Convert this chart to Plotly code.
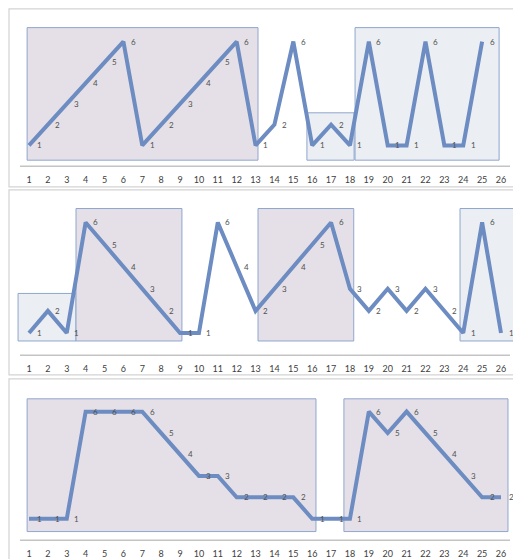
import plotly.graph_objects as go

# ---- data -------------------------------------------------------------
positions = list(range(1, 27))
tick_labels = [str(i) for i in positions]

series_top = [1, 2, 3, 4, 5, 6, 1, 2, 3, 4, 5, 6, 1, 2, 6, 1, 2, 1, 6, 1, 1, 6, 1, 1, 6]
series_mid = [1, 2, 1, 6, 5, 4, 3, 2, 1, 1, 6, 4, 2, 3, 4, 5, 6, 3, 2, 3, 2, 3, 2, 1, 6, 1]
series_bot = [1, 1, 1, 6, 6, 6, 6, 5, 4, 3, 3, 2, 2, 2, 2, 1, 1, 1, 6, 5, 6, 5, 4, 3, 2, 2]

# highlighted segments: (x0, x1, y0, y1, style)
boxes_top = [(0.9, 13.13, 0.29, 6.67, "warm"),
             (15.72, 18.22, 0.29, 2.57, "cool"),
             (18.27, 25.9, 0.29, 6.67, "cool")]
boxes_mid = [(0.42, 3.49, 0.64, 2.79, "cool"),
             (3.49, 9.1, 0.64, 6.63, "warm"),
             (13.13, 18.2, 0.64, 6.63, "warm"),
             (23.83, 26.9, 0.64, 6.63, "cool")]
boxes_bot = [(0.9, 16.2, 0.4, 6.6, "warm"),
             (17.68, 26.37, 0.4, 6.6, "warm")]

# ---- styling ----------------------------------------------------------
W, H = 513, 559
LINE = "#6d8cc2"
FILLS = {"warm": "#e5e0e7", "cool": "#ebeef2"}
EDGE = "#8fa6cf"
FRAME = "#d3d3d3"
AXIS = "#c4c4c4"
FONT = "Lato"

def py(p):
    """pixel row -> paper y"""
    return 1 - p / H

def px(p):
    return p / W

# plot areas (top px, bottom px, y-range top)
panels = [
    dict(top=9, bottom=168, ymax=7.571, data=series_top, boxes=boxes_top, frame=(9, 189)),
    dict(top=192, bottom=359, ymax=7.47, data=series_mid, boxes=boxes_mid, frame=(192, 379)),
    dict(top=383, bottom=546, ymax=7.53, data=series_bot, boxes=boxes_bot, frame=(383, 570)),
]

unit = 18.88
xr = [1 - 29 / unit, 1 + (W - 29) / unit]

fig = go.Figure()
shapes = []
annotations = []

for i, p in enumerate(panels, start=1):
    xa = "x" if i == 1 else f"x{i}"
    ya = "y" if i == 1 else f"y{i}"
    xs = positions[:len(p["data"])]

    fig.add_trace(go.Scatter(
        x=xs, y=p["data"], mode="lines", xaxis=xa, yaxis=ya,
        line=dict(color=LINE, width=4), hoverinfo="skip", showlegend=False))

    for xv, yv in zip(xs, p["data"]):
        annotations.append(dict(
            x=xv, y=yv, xref=xa, yref=ya, text=str(yv), showarrow=False,
            xshift=10, xanchor="center", yanchor="middle",
            font=dict(family=FONT, size=8, color="#505050")))

    for (x0, x1, y0, y1, style) in p["boxes"]:
        shapes.append(dict(type="rect", xref=xa, yref=ya, x0=x0, x1=x1, y0=y0, y1=y1,
                           fillcolor=FILLS[style], line=dict(color=EDGE, width=1),
                           layer="below"))

    # panel frame
    f0, f1 = p["frame"]
    shapes.append(dict(type="rect", xref="paper", yref="paper",
                       x0=px(9), x1=px(W + 10), y0=py(f1), y1=py(f0),
                       line=dict(color=FRAME, width=1.2), fillcolor="rgba(0,0,0,0)",
                       layer="below"))
    # baseline
    shapes.append(dict(type="line", xref="paper", yref="paper",
                       x0=px(20), x1=px(510), y0=py(p["bottom"]), y1=py(p["bottom"]),
                       line=dict(color=AXIS, width=1.5), layer="below"))

    dom = [py(p["bottom"]), py(p["top"])]
    fig.update_layout(**{
        ("xaxis" if i == 1 else f"xaxis{i}"): dict(
            domain=[0, 1], range=xr, anchor=ya, tickmode="array",
            tickvals=positions, ticktext=tick_labels, showgrid=False, zeroline=False,
            showline=False, ticks="outside", ticklen=5, tickcolor="rgba(0,0,0,0)",
            tickfont=dict(family=FONT, size=9, color="#404040"), fixedrange=True),
        ("yaxis" if i == 1 else f"yaxis{i}"): dict(
            domain=dom, range=[0, p["ymax"]], anchor=xa, visible=False,
            showgrid=False, zeroline=False, fixedrange=True),
    })

fig.update_layout(
    width=W, height=H, margin=dict(l=0, r=0, t=0, b=0),
    paper_bgcolor="white", plot_bgcolor="rgba(0,0,0,0)",
    shapes=shapes, annotations=annotations, showlegend=False,
)

fig.write_html("out.html")
